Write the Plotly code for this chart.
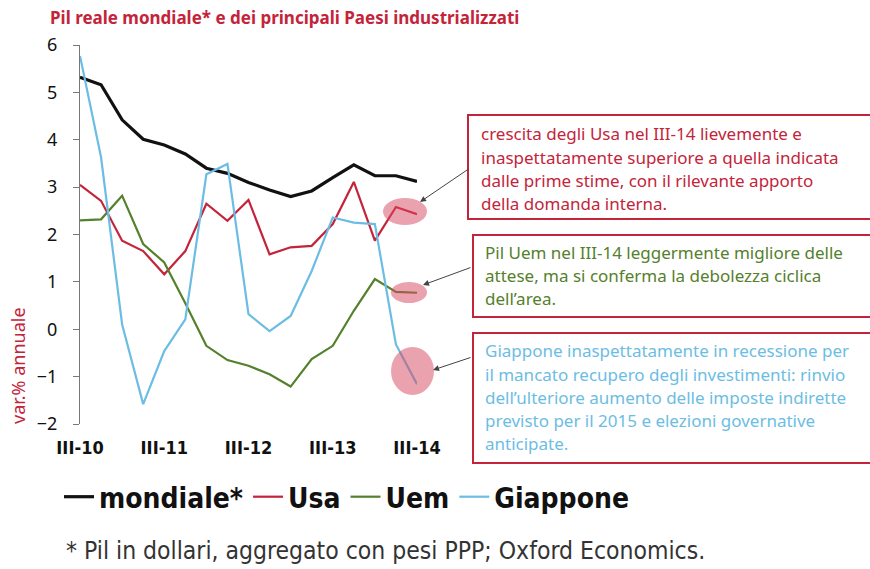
import plotly.graph_objects as go

quarters = ["III-10", "IV-10", "I-11", "II-11", "III-11", "IV-11", "I-12", "II-12",
            "III-12", "IV-12", "I-13", "II-13", "III-13", "IV-13", "I-14", "II-14", "III-14"]
tick_quarters = ["III-10", "III-11", "III-12", "III-13", "III-14"]

mondiale = [5.32, 5.16, 4.42, 4.01, 3.89, 3.70, 3.40, 3.29, 3.10, 2.94, 2.80, 2.92, 3.20, 3.47, 3.24, 3.24, 3.12]
usa = [3.05, 2.71, 1.87, 1.65, 1.16, 1.65, 2.65, 2.29, 2.73, 1.58, 1.73, 1.76, 2.22, 3.11, 1.87, 2.58, 2.43]
uem = [2.30, 2.32, 2.82, 1.80, 1.41, 0.55, -0.35, -0.65, -0.77, -0.95, -1.21, -0.63, -0.35, 0.39, 1.06, 0.79, 0.77]
giappone = [5.77, 3.63, 0.10, -1.58, -0.46, 0.21, 3.27, 3.49, 0.32, -0.04, 0.28, 1.23, 2.36, 2.25, 2.22, -0.32, -1.16]

RED = "#c4243a"
GREEN = "#55802c"
BLUE = "#6cbde3"
BLACK = "#111111"
PINK = "rgba(215,70,95,0.5)"
COND = "DejaVu Sans Condensed"

W, H = 870, 569
L, R, T, B = 80, 453, 45, 145  # plot area 80..417 x 45..424


def px(x):
    """pixel x -> paper x"""
    return (x - L) / (W - L - R)


def py(y):
    """pixel y -> paper y"""
    return (H - B - y) / (H - T - B)


fig = go.Figure()
series = [("mondiale*", mondiale, BLACK, 3.2), ("Usa", usa, RED, 2.2),
          ("Uem", uem, GREEN, 2.2), ("Giappone", giappone, BLUE, 2.2)]
for name, vals, col, lw in series:
    fig.add_trace(go.Scatter(x=quarters, y=vals, name=name, mode="lines",
                             line=dict(color=col, width=lw), cliponaxis=False))

# highlight ellipses at the latest quarter (drawn over the lines, translucent)
for x0, x1, y0, y1 in [(383, 427, 198, 225), (391, 427, 282, 303), (391, 434, 347, 395)]:
    fig.add_shape(type="circle", xref="paper", yref="paper", x0=px(x0), x1=px(x1),
                  y0=py(y1), y1=py(y0), fillcolor=PINK, line_width=0, layer="above")

# comment boxes
boxes = [
    (468, 115, 219, RED, 479, [133, 157, 180, 203],
     ["crescita degli Usa nel III-14 lievemente e",
      "inaspettatamente superiore a quella indicata",
      "dalle prime stime, con il rilevante apporto",
      "della domanda interna."]),
    (473, 235, 317, GREEN, 483, [252, 275, 298],
     ["Pil Uem nel III-14 leggermente migliore delle",
      "attese, ma si conferma la debolezza ciclica",
      "dell’area."]),
    (473, 333, 463, BLUE, 483, [350, 374, 397, 420, 443],
     ["Giappone inaspettatamente in recessione per",
      "il mancato recupero degli investimenti: rinvio",
      "dell’ulteriore aumento delle imposte indirette",
      "previsto per il 2015 e elezioni governative",
      "anticipate."]),
]
for bx, by0, by1, tcol, tx, ys, lines in boxes:
    fig.add_shape(type="rect", xref="paper", yref="paper", x0=px(bx), x1=px(880),
                  y0=py(by1), y1=py(by0), line=dict(color=RED, width=2), fillcolor="white")
    for yy, txt in zip(ys, lines):
        fig.add_annotation(xref="paper", yref="paper", x=px(tx), y=py(yy), text=txt,
                           showarrow=False, xanchor="left", yanchor="middle",
                           font=dict(family="Noto Sans", size=17, color=tcol))

# arrows from boxes to ellipses
for tipx, tipy, tailx, taily in [(420, 202, 470, 168), (423, 285, 472, 267), (433, 370, 472, 357)]:
    fig.add_annotation(x=px(tipx), y=py(tipy), xref="paper", yref="paper",
                       ax=tailx - tipx, ay=taily - tipy, text="",
                       showarrow=True, arrowhead=2, arrowsize=1.2, arrowwidth=1, arrowcolor="#444")

fig.add_annotation(xref="paper", yref="paper", x=px(48), y=py(17), xanchor="left", yanchor="middle",
                   text="<b>Pil reale mondiale* e dei principali Paesi industrializzati</b>",
                   showarrow=False, font=dict(family="Noto Sans", size=17, color=RED))
fig.add_annotation(xref="paper", yref="paper", x=px(18), y=py(366), xanchor="center", yanchor="middle",
                   textangle=-90, text="var.% annuale", showarrow=False,
                   font=dict(family="Noto Sans", size=18, color=RED))
fig.add_annotation(xref="paper", yref="paper", x=px(64), y=py(550), xanchor="left", yanchor="middle",
                   text="* Pil in dollari, aggregato con pesi PPP; Oxford Economics.", showarrow=False,
                   font=dict(family=COND, size=24.5, color="#333"))

fig.update_layout(
    width=W, height=H, autosize=False,
    margin=dict(l=L, r=R, t=T, b=B, autoexpand=False),
    paper_bgcolor="white", plot_bgcolor="white",
    showlegend=True,
    # anchored on the right, outside the plot area, so the row may be wider than the plot
    legend=dict(orientation="h", x=px(634), y=py(497), xanchor="right", yanchor="middle",
                font=dict(family=COND, size=28, color=BLACK, weight="bold"),
                itemwidth=30, tracegroupgap=0),
    xaxis=dict(type="category", range=[0, 16], showgrid=False, zeroline=False, showline=False,
               tickvals=tick_quarters, ticktext=tick_quarters, ticks="", automargin=False,
               ticklabelstandoff=11,
               tickfont=dict(family=COND, size=18, color=BLACK, weight="bold")),
    xaxis2=dict(type="category", range=[0, 16], overlaying="x", anchor="free", position=0.25,
                showgrid=False, zeroline=False, showline=True, linecolor="#777", linewidth=1.3,
                tickvals=tick_quarters, ticks="outside", ticklen=7, tickcolor="#777",
                showticklabels=False, categoryorder="array", categoryarray=quarters),
    yaxis=dict(range=[-2, 6], tickvals=list(range(-2, 7)), showgrid=False, zeroline=False,
               showline=True, linecolor="#777", linewidth=1.3, ticks="outside", ticklen=6,
               tickcolor="#777", ticklabelstandoff=12, automargin=False,
               tickfont=dict(family="Noto Sans", size=18, color=BLACK)),
)

fig.write_html("out.html", config={"displayModeBar": False},
               post_script="document.body.style.margin='0';")
